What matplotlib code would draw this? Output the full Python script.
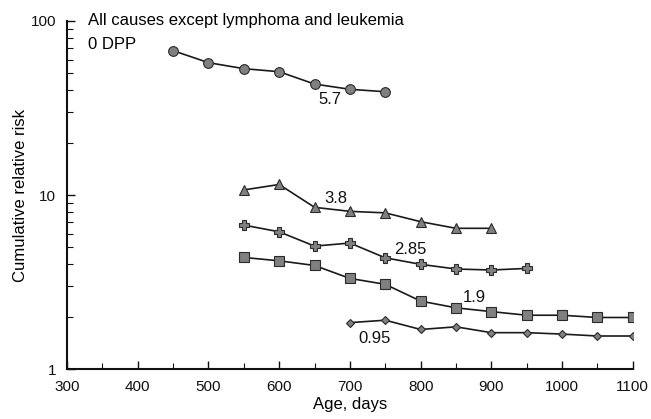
import matplotlib
matplotlib.use("Agg")
import matplotlib.pyplot as plt
from matplotlib.ticker import FixedLocator, NullFormatter, LogLocator

plt.rcParams['font.family'] = ['Liberation Sans', 'DejaVu Sans']

# Cumulative relative risk by age for each dose group (ppm)
age_57 = [450, 500, 550, 600, 650, 700, 750]
risk_57 = [67.5, 57.6, 53.2, 51.1, 43.4, 40.5, 39.2]

age_38 = [550, 600, 650, 700, 750, 800, 850, 900]
risk_38 = [10.7, 11.5, 8.5, 8.06, 7.9, 7.03, 6.44, 6.44]

age_285 = [550, 600, 650, 700, 750, 800, 850, 900, 950]
risk_285 = [6.72, 6.15, 5.09, 5.3, 4.36, 4.0, 3.76, 3.71, 3.79]

age_19 = [550, 600, 650, 700, 750, 800, 850, 900, 950, 1000, 1050, 1100]
risk_19 = [4.38, 4.19, 3.94, 3.32, 3.07, 2.46, 2.25, 2.14, 2.04, 2.04, 1.98, 1.98]

age_095 = [700, 750, 800, 850, 900, 950, 1000, 1050, 1100]
risk_095 = [1.85, 1.91, 1.69, 1.75, 1.62, 1.62, 1.59, 1.55, 1.55]

dose_labels = ["5.7", "3.8", "2.85", "1.9", "0.95"]
x_ticks = [300, 400, 500, 600, 700, 800, 900, 1000, 1100]

fig = plt.figure(figsize=(6.51, 4.19), dpi=100)
ax = fig.add_axes([0.103, 0.119, 0.869, 0.831])

mk = dict(color='#1a1a1a', lw=1.2, mec='#2a2a2a', mfc='#808080', mew=0.8)
ax.plot(age_57, risk_57, marker='o', ms=7, **mk)
ax.plot(age_38, risk_38, marker='^', ms=7.5, **mk)
ax.plot(age_285, risk_285, marker='P', ms=7, **mk)
ax.plot(age_19, risk_19, marker='s', ms=6.5, **mk)
ax.plot(age_095, risk_095, marker='D', ms=4.5, **mk)

lbl = dict(fontsize=12, color='#111111', ha='center', va='center')
ax.text(671, 35.6, dose_labels[0], **lbl)
ax.text(680, 9.5, dose_labels[1], **lbl)
ax.text(785, 4.85, dose_labels[2], **lbl)
ax.text(876, 2.57, dose_labels[3], **lbl)
ax.text(735, 1.50, dose_labels[4], **lbl)

ax.set_yscale('log')
ax.set_xlim(300, 1100)
ax.set_ylim(1, 100)
ax.set_xticks(x_ticks)
ax.set_xticklabels([str(t) for t in x_ticks])
ax.xaxis.set_minor_locator(FixedLocator([350, 450, 550, 650, 750, 850, 950, 1050]))
ax.set_yticks([1, 10, 100])
ax.set_yticklabels(['1', '10', '100'])
ax.yaxis.set_minor_locator(LogLocator(base=10, subs=range(2, 10)))
ax.yaxis.set_minor_formatter(NullFormatter())

ax.tick_params(which='both', direction='in', labelsize=11, colors='#111111')
ax.tick_params(which='major', length=6, width=1)
ax.tick_params(which='minor', length=4, width=0.8)
ax.tick_params(axis='x', pad=8)
ax.tick_params(axis='y', pad=8)

for s in ['top', 'right']:
    ax.spines[s].set_visible(False)
for s in ['left', 'bottom']:
    ax.spines[s].set_linewidth(1.5)
    ax.spines[s].set_color('#111111')

ax.set_xlabel('Age, days', fontsize=12, labelpad=2)
ax.set_ylabel('Cumulative relative risk', fontsize=12, labelpad=2)

fig.text(0.135, 0.952, 'All causes except lymphoma and leukemia', fontsize=12,
         ha='left', va='center')
fig.text(0.135, 0.893, '0 DPP', fontsize=12, ha='left', va='center')

fig.savefig('out.png', dpi=100)
